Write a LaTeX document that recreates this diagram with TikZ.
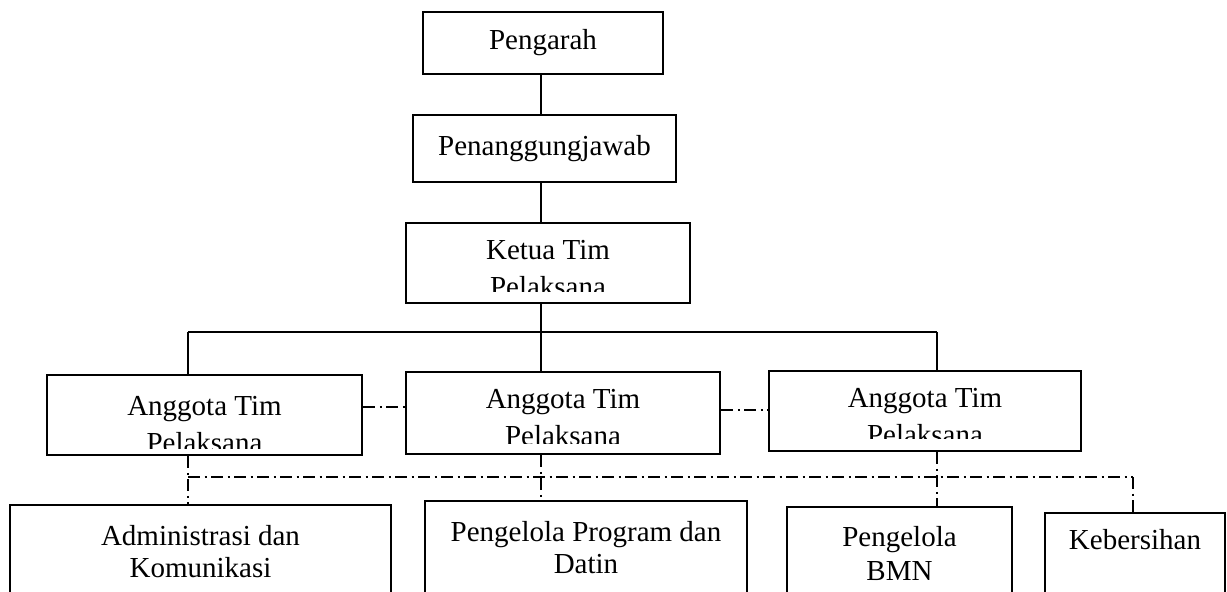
\documentclass[tikz,border=0pt]{standalone}
\usepackage{fontspec}
\setmainfont{Liberation Serif}
\usetikzlibrary{positioning}

\tikzset{
  orgbox/.style={draw, line width=2.5pt, inner sep=0pt},
  orgtext/.style={align=center, inner sep=0pt, font=\fontsize{29}{37}\selectfont},
  solidlink/.style={line width=1.3pt},
  dashdot/.style={line width=1.2pt, dash pattern=on 12pt off 4.5pt on 2pt off 4.5pt},
}

\begin{document}
\begin{tikzpicture}[x=1pt,y=-1pt]
\useasboundingbox (0,0) rectangle (1227,592);

% Top of the chart
\node[orgbox, orgtext, minimum width=240pt, minimum height=62pt] (pengarah) at (543,43) {Pengarah};
\node[orgbox, orgtext, minimum width=263pt, minimum height=67pt] (pj) at (544.5,148.5) {Penanggungjawab};
\node[orgbox, minimum width=284pt, minimum height=80pt] (ketua) at (548,263) {};

% Anggota boxes
\node[orgbox, minimum width=315pt, minimum height=80pt] (agL) at (204.5,415) {};
\node[orgbox, minimum width=314pt, minimum height=82pt] (agM) at (563,413) {};
\node[orgbox, minimum width=312pt, minimum height=80pt] (agR) at (925,411) {};

% Labels cut off by the box
\foreach \b/\txt/\off/\cut in {ketua/Ketua Tim/18/70, agL/Anggota Tim/22/75, agM/Anggota Tim/18/73, agR/Anggota Tim/18/69} {
  \begin{scope}
    \clip (\b.north west) rectangle ([yshift=-\cut pt]\b.north east);
    \node[orgtext, below=\off pt of \b.north] (\b-txt) {\txt\\Pelaksana};
  \end{scope}
}

% Bottom row (runs off the page)
\node[orgbox, minimum width=381pt, minimum height=120pt] (admin) at (200.5,565) {};
\node[orgbox, minimum width=322pt, minimum height=120pt] (prog) at (586,561) {};
\node[orgbox, minimum width=225pt, minimum height=120pt] (bmn) at (899.5,567) {};
\node[orgbox, minimum width=180pt, minimum height=120pt] (kebersihan) at (1135,573) {};

\node[orgtext, font=\fontsize{29}{32}\selectfont, below=21pt of admin.north] (admin-txt) {Administrasi dan\\Komunikasi};
\node[orgtext, font=\fontsize{29}{32}\selectfont, below=21pt of prog.north] (prog-txt) {Pengelola Program dan\\Datin};
\node[orgtext, font=\fontsize{29}{34}\selectfont, below=20pt of bmn.north] (bmn-txt) {Pengelola\\BMN};
\node[orgtext, below=17pt of kebersihan.north] (kebersihan-txt) {Kebersihan};

% Solid lines
\coordinate (spine) at (541,0);
\coordinate (busL) at (188,332);
\coordinate (busR) at (937,332);
\draw[solidlink] (pengarah.south -| spine) -- (pj.north -| spine);
\draw[solidlink] (pj.south -| spine) -- (ketua.north -| spine);
\draw[solidlink] (ketua.south -| spine) -- (agM.north -| spine);
\draw[solidlink] (busL) -- (busR);
\draw[solidlink] (busL) -- (busL |- agL.north);
\draw[solidlink] (busR) -- (busR |- agR.north);

% Dash-dot lines
\coordinate (lnkA) at ([yshift=8pt]agL.east);
\coordinate (lnkB) at ([yshift=3pt]agM.east);
\draw[dashdot] (lnkA) -- (lnkA -| agM.west);
\draw[dashdot] (lnkB) -- (lnkB -| agR.west);

\coordinate (dbL) at (188,477);
\coordinate (dbR) at (1133,477);
\draw[dashdot] (dbL) -- (dbR);
\draw[dashdot] (agL.south -| dbL) -- (admin.north -| dbL);
\draw[dashdot] (agM.south -| spine) -- (prog.north -| spine);
\draw[dashdot] (agR.south -| busR) -- (bmn.north -| busR);
\draw[dashdot] (dbR) -- (kebersihan.north -| dbR);
\end{tikzpicture}
\end{document}
